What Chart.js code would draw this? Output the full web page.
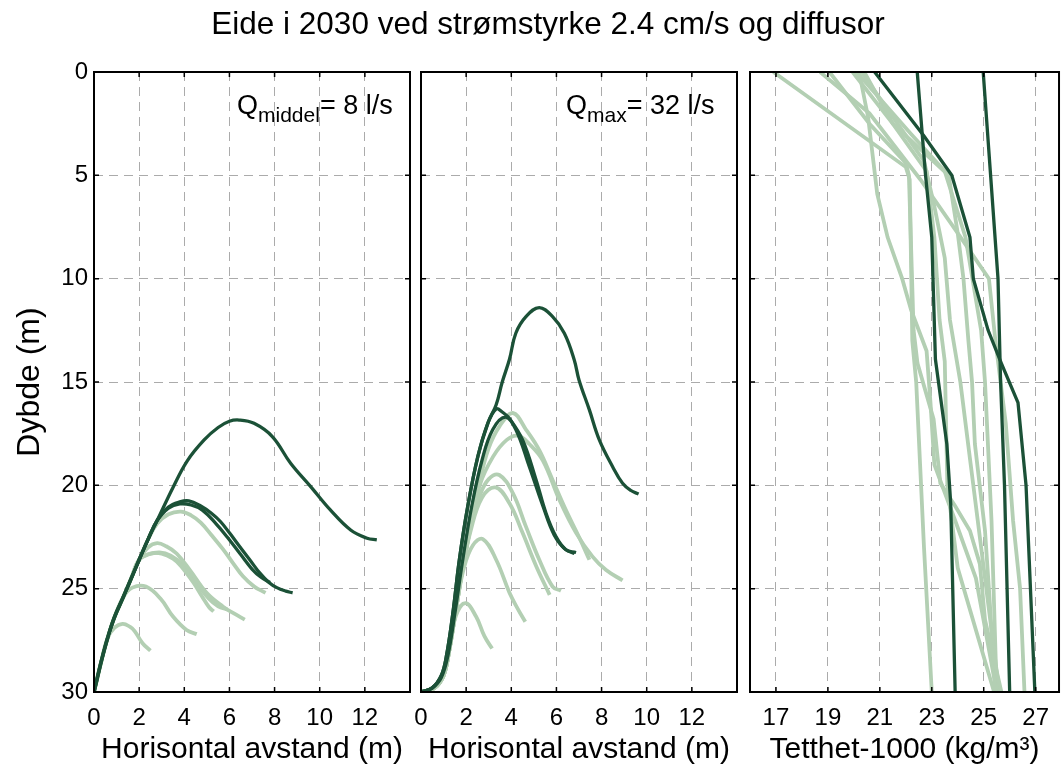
<!DOCTYPE html>
<html>
<head>
<meta charset="utf-8">
<script src="https://cdn.jsdelivr.net/npm/chart.js@4.4.1/dist/chart.umd.min.js"></script>
<style>
html, body { margin: 0; padding: 0; background: #fff; }
#fig { position: relative; width: 1061px; height: 773px; overflow: hidden; font-family: "Liberation Sans", Arial, sans-serif; color: #000; }
#fig canvas { position: absolute; left: 0; top: 0; }
.txt { position: absolute; white-space: nowrap; line-height: 1; }
</style>
</head>
<body>
<div id="fig">
  <canvas id="c1" width="1061" height="773"></canvas>
  <canvas id="c2" width="1061" height="773"></canvas>
  <canvas id="c3" width="1061" height="773"></canvas>
  <div class="txt" style="left:548px;top:8px;font-size:31.5px;transform:translateX(-50%)">Eide i 2030 ved strømstyrke 2.4 cm/s og diffusor</div>
  <div class="txt" style="left:237px;top:92px;font-size:27px">Q<span style="font-size:21px;vertical-align:-8px">middel</span>= 8 l/s</div>
  <div class="txt" style="left:566px;top:92px;font-size:27px">Q<span style="font-size:21px;vertical-align:-8px">max</span>= 32 l/s</div>
</div>
<script>
// ---- data: [horisontal avstand (m), dybde (m)] ----
const q8Dark1 = [[0,30],[0.15,29.3],[0.35,28.4],[0.6,27.4],[0.9,26.4],[1.3,25.4],[1.65,24.5],[2.0,23.6],[2.4,22.6],[2.8,21.7],[3.5,20.1],[4.14,18.8],[4.88,17.8],[5.5,17.2],[6.0,16.9],[6.43,16.84],[7.09,17.0],[7.9,17.64],[8.71,18.93],[9.6,20.06],[10.48,21.2],[11.37,22.16],[12.1,22.56],[12.53,22.64]];
const q8Dark2 = [[0,30],[0.15,29.3],[0.35,28.4],[0.6,27.4],[0.9,26.4],[1.3,25.4],[1.65,24.5],[2.0,23.6],[2.4,22.6],[2.8,21.7],[3.3,21.05],[3.8,20.8],[4.2,20.75],[4.73,21.0],[5.2,21.35],[5.6,21.75],[6.0,22.3],[6.46,22.97],[6.9,23.6],[7.35,24.25],[7.75,24.7],[8.1,24.95],[8.5,25.12],[8.8,25.2]];
const q8Dark3 = [[0,30],[0.15,29.3],[0.35,28.4],[0.6,27.4],[0.9,26.4],[1.3,25.4],[1.65,24.5],[2.0,23.6],[2.4,22.6],[2.8,21.7],[3.3,21.1],[3.8,20.9],[4.3,20.95],[4.8,21.2],[5.4,21.85],[5.9,22.5],[6.5,23.35],[7.0,24.05],[7.4,24.45],[7.8,24.7]];
const q8Light1 = [[0,30],[0.15,29.3],[0.35,28.4],[0.6,27.4],[0.9,26.4],[1.3,25.4],[1.65,24.5],[2.0,23.6],[2.4,22.6],[2.8,21.85],[3.3,21.4],[3.85,21.27],[4.3,21.45],[4.73,21.8],[5.2,22.4],[5.72,23.1],[6.15,23.75],[6.6,24.4],[7.1,24.9],[7.6,25.2]];
const q8Light2 = [[0,30],[0.15,29.3],[0.35,28.4],[0.6,27.4],[0.9,26.4],[1.3,25.4],[1.65,24.5],[2.0,23.6],[2.4,23.0],[2.8,22.8],[3.2,22.95],[3.66,23.3],[4.25,24.1],[4.99,25.2],[5.72,25.87],[6.2,26.2],[6.68,26.5]];
const q8Light3 = [[0,30],[0.15,29.3],[0.35,28.4],[0.6,27.4],[0.9,26.4],[1.3,25.4],[1.65,24.5],[2.0,23.6],[2.5,23.3],[3.0,23.3],[3.5,23.55],[3.85,23.9],[4.4,24.7],[4.8,25.4],[5.1,25.9],[5.3,26.1]];
const q8Light4 = [[0,30],[0.15,29.3],[0.35,28.4],[0.6,27.4],[0.9,26.4],[1.3,25.4],[1.65,24.5],[2.0,23.6],[2.4,23.35],[2.9,23.25],[3.4,23.4],[4.0,23.9],[4.6,24.8],[5.1,25.5],[5.5,25.85],[5.9,26.0]];
const q8Light5 = [[0,30],[0.15,29.3],[0.35,28.4],[0.6,27.4],[0.9,26.4],[1.3,25.4],[1.7,24.95],[2.3,24.9],[2.96,25.5],[3.5,26.35],[4.1,27.0],[4.55,27.2]];
const q8Light6 = [[0,30],[0.15,29.3],[0.35,28.4],[0.6,27.4],[0.9,26.9],[1.27,26.7],[1.6,26.85],[1.8,27.05],[2.15,27.64],[2.5,28.0]];

const q32Dark1 = [[0,30],[0.5,29.8],[0.9,29.2],[1.12,28.3],[1.41,26.2],[1.7,23.6],[2.07,21.03],[2.52,18.6],[2.96,17.0],[3.33,16.1],[3.6,15.0],[3.92,13.9],[4.2,12.64],[4.65,11.84],[5.24,11.4],[5.83,11.84],[6.35,12.64],[6.79,13.93],[7.0,14.9],[7.46,16.35],[7.9,17.8],[8.49,19.1],[8.93,19.9],[9.3,20.25],[9.64,20.42]];
const q32Dark2 = [[0,30],[0.5,29.8],[0.9,29.2],[1.12,28.3],[1.41,26.2],[1.7,23.6],[2.07,21.03],[2.52,18.6],[2.96,17.0],[3.33,16.3],[3.6,16.45],[3.92,16.77],[4.5,17.8],[5.1,19.74],[5.54,21.35],[5.98,22.48],[6.42,23.12],[6.87,23.25]];
const q32Dark3 = [[0,30],[0.5,29.8],[0.9,29.3],[1.2,28.2],[1.5,26.2],[1.85,23.6],[2.25,21.0],[2.7,18.8],[3.18,17.3],[3.74,16.7],[4.2,17.3],[4.8,19.1],[5.4,21.0],[5.9,22.4],[6.4,23.1],[6.8,23.3]];
const q32Light1 = [[0,30],[0.6,29.8],[1.0,29.2],[1.25,28.0],[1.55,26.0],[1.85,24.0],[2.2,22.0],[2.6,19.8],[3.0,18.2],[3.47,17.16],[4.07,16.5],[4.65,17.3],[5.24,18.3],[5.83,19.74],[6.42,21.2],[7.0,22.5],[7.46,23.6]];
const q32Light2 = [[0,30],[0.6,29.8],[1.0,29.2],[1.25,28.0],[1.55,26.0],[1.85,24.0],[2.2,22.0],[2.6,20.0],[3.2,18.6],[3.8,17.8],[4.3,17.6],[4.8,18.0],[5.4,18.8],[6.13,20.7],[6.87,22.3],[7.6,23.45],[8.2,24.1],[8.93,24.6]];
const q32Light3 = [[0,30],[0.6,29.8],[1.0,29.2],[1.25,28.0],[1.55,26.0],[1.85,24.0],[2.2,22.0],[2.6,20.5],[3.0,19.7],[3.47,19.5],[4.07,20.38],[4.65,22.0],[5.24,23.6],[5.83,24.9],[6.2,25.1]];
const q32Light4 = [[0,30],[0.6,29.8],[1.0,29.2],[1.25,28.0],[1.55,26.0],[1.85,24.0],[2.2,22.2],[2.7,20.6],[3.3,20.1],[3.92,20.87],[4.5,22.3],[5.1,23.9],[5.7,25.3]];
const q32Light5 = [[0,30],[0.6,29.8],[1.0,29.2],[1.25,28.0],[1.55,26.0],[1.9,24.0],[2.3,22.9],[2.74,22.6],[3.33,23.6],[3.92,25.2],[4.3,26.0],[4.62,26.6]];
const q32Light6 = [[0,30],[0.6,29.8],[1.0,29.2],[1.25,28.0],[1.55,26.3],[1.97,25.7],[2.44,26.35],[2.81,27.3],[3.15,27.9]];

// ---- data: [tetthet-1000 (kg/m3), dybde (m)] ----
const rhoDark1 = [[20.8,0],[22.7,3.1],[23.77,5],[24.47,8],[24.6,10],[25.17,12.5],[25.68,14.1],[26.32,16],[26.63,20],[26.97,30]];
const rhoDark2 = [[22.44,0],[22.76,5],[23.0,8],[23.14,13.9],[23.58,18],[23.73,20.9],[23.9,30]];
const rhoDark3 = [[24.98,0],[25.55,10],[25.65,15],[25.8,20],[26.0,30]];
const rhoLight1 = [[16.9,0],[22.0,4.6],[22.15,5.2],[22.25,13],[22.4,15],[22.55,19],[22.7,23],[23.0,30]];
const rhoLight2 = [[18.7,0],[20.6,2],[22.56,5.2],[24.0,7.8],[25.2,10],[25.45,13],[25.85,17],[26.13,21.7],[26.4,25],[26.57,30]];
const rhoLight3 = [[19.06,0],[20.6,2.5],[22.0,4.4],[22.12,5],[22.3,12.5],[22.45,14.1],[23.07,16.8],[23.33,19.9],[23.9,21.0],[24.47,22.2],[24.85,23.8],[25.05,26.5],[25.68,30]];
const rhoLight4 = [[19.95,0],[21.5,2.5],[23.65,5.0],[24.0,7.8],[24.22,10],[24.41,13],[24.55,15],[24.66,18],[25.05,22.2],[25.2,25],[25.45,30]];
const rhoLight5 = [[20.2,0],[20.55,2.2],[20.9,5.9],[21.3,8],[21.86,10],[22.2,11.5],[22.8,13.5],[22.95,16],[23.1,19],[23.9,21.7],[24.7,24.5],[25.5,30]];
const rhoLight6 = [[20.3,0],[21.4,2],[22.7,4.3],[23.1,6.5],[23.5,9],[23.7,12],[24.1,15],[24.5,19],[25.0,24],[25.6,30]];
const rhoLight7 = [[20.1,0],[22.2,3],[23.5,4.8],[24.3,8],[24.9,12.5],[25.05,15],[25.3,21.7],[25.5,30]];
const rhoLight8 = [[20.4,0],[21.5,2.5],[22.8,4.8],[23.1,8],[23.3,12],[23.5,14],[23.6,20],[24.0,24],[25.4,30]];

const depthTicks = [0, 5, 10, 15, 20, 25, 30];
const distTicks = [0, 2, 4, 6, 8, 10, 12];
const rhoTicks = [17, 19, 21, 23, 25, 27];

const DARK = '#1b5137';
const LIGHT = '#b3cfb3';
const FONT = '"Liberation Sans", Arial, sans-serif';

function pts(arr) { return arr.map(p => ({ x: p[0], y: p[1] })); }

function sets(dark, light, tension) {
    // first dataset is drawn on top, so dark curves go first
    const out = [];
    dark.forEach(d => out.push({ data: pts(d), borderColor: DARK, borderWidth: 3.3, tension: tension, pointRadius: 0 }));
    light.forEach(d => out.push({ data: pts(d), borderColor: LIGHT, borderWidth: 3.8, tension: tension, pointRadius: 0 }));
    return out;
}

/* frame round the plot area with inward tick marks */
const frame = {
    id: 'frame',
    afterDraw(chart) {
        const { ctx, chartArea: a, scales } = chart;
        ctx.save();
        ctx.strokeStyle = '#000';
        ctx.lineWidth = 1.5;
        ctx.beginPath();
        scales.x.ticks.forEach(t => {
            const px = scales.x.getPixelForValue(t.value);
            ctx.moveTo(px, a.bottom); ctx.lineTo(px, a.bottom - 5);
            ctx.moveTo(px, a.top); ctx.lineTo(px, a.top + 5);
        });
        scales.y.ticks.forEach(t => {
            const py = scales.y.getPixelForValue(t.value);
            ctx.moveTo(a.left, py); ctx.lineTo(a.left + 5, py);
            ctx.moveTo(a.right, py); ctx.lineTo(a.right - 5, py);
        });
        ctx.stroke();
        ctx.lineWidth = 2;
        ctx.strokeRect(a.left, a.top, a.right - a.left, a.bottom - a.top);
        ctx.restore();
    }
};

function makePanel(id, datasets, xMin, xMax, xTicks, xTitle, left, right, showY) {
    return new Chart(document.getElementById(id), {
        type: 'line',
        data: { datasets: datasets },
        options: {
            responsive: false,
            animation: false,
            devicePixelRatio: 1,
            layout: { padding: { left: showY ? 0 : left, right: 1061 - right, top: 72, bottom: 0 } },
            plugins: { legend: { display: false }, tooltip: { enabled: false } },
            scales: {
                x: {
                    type: 'linear', min: xMin, max: xMax,
                    afterBuildTicks: s => { s.ticks = xTicks.map(v => ({ value: v })); },
                    afterFit: s => { s.height = 81; },
                    grid: { color: '#ababab', lineWidth: 1, drawTicks: false },
                    border: { display: false, dash: [9, 6] },
                    ticks: { color: '#000', padding: 12, maxRotation: 0, autoSkip: false, font: { family: FONT, size: 24 } },
                    title: { display: true, text: xTitle, color: '#000', padding: { top: 0, bottom: 5 }, font: { family: FONT, size: 30 } }
                },
                y: {
                    type: 'linear', min: 0, max: 30, reverse: true,
                    afterBuildTicks: s => { s.ticks = depthTicks.map(v => ({ value: v })); },
                    afterFit: s => { s.width = showY ? left : 0; },
                    grid: { color: '#ababab', lineWidth: 1, drawTicks: false },
                    border: { display: false, dash: [9, 6] },
                    ticks: { display: showY, color: '#000', padding: 6, font: { family: FONT, size: 24 } },
                    title: { display: showY, text: 'Dybde (m)', color: '#000', padding: { top: 11, bottom: 0 }, font: { family: FONT, size: 32 } }
                }
            }
        },
        plugins: [frame]
    });
}

makePanel('c1', sets([q8Dark1, q8Dark2, q8Dark3], [q8Light1, q8Light2, q8Light3, q8Light4, q8Light5, q8Light6], 0.4),
    0, 14, distTicks, 'Horisontal avstand (m)', 94, 410, true);
makePanel('c2', sets([q32Dark1, q32Dark2, q32Dark3], [q32Light1, q32Light2, q32Light3, q32Light4, q32Light5, q32Light6], 0.4),
    0, 14, distTicks, 'Horisontal avstand (m)', 421, 737, false);
makePanel('c3', sets([rhoDark1, rhoDark2, rhoDark3], [rhoLight1, rhoLight2, rhoLight3, rhoLight4, rhoLight5, rhoLight6, rhoLight7, rhoLight8], 0),
    16, 27.9, rhoTicks, 'Tetthet-1000 (kg/m³)', 750, 1061, false);
</script>
</body>
</html>
